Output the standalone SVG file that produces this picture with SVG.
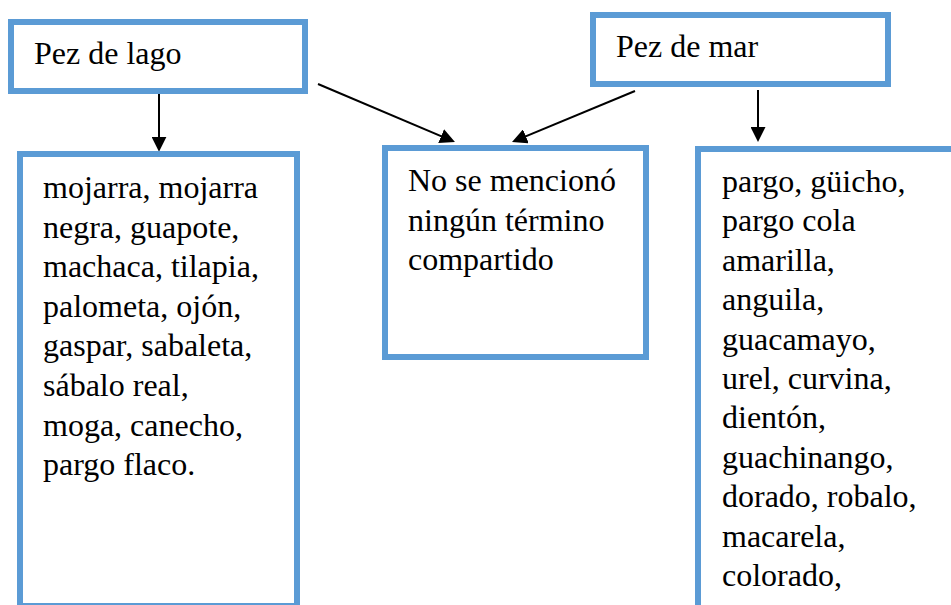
<svg xmlns="http://www.w3.org/2000/svg" width="951" height="605" viewBox="0 0 951 605">
<style>
.box{fill:#ffffff;stroke:#5B9BD5;stroke-width:6}
.t{font-family:'Liberation Serif','Times New Roman','DejaVu Serif',serif;font-size:32px;fill:#000000}
.c{stroke:#000000;stroke-width:2;fill:none}
</style>
<defs>
<marker id="ah" markerUnits="userSpaceOnUse" markerWidth="15" markerHeight="15" refX="12" refY="7.5" orient="auto">
<path d="M0,0 L15,7.5 L0,15 z" fill="#000000"/>
</marker>
</defs>
<rect width="951" height="605" fill="#ffffff"/>
<g id="connectors">
<line class="c" x1="159" y1="94" x2="159" y2="148.7" marker-end="url(#ah)"/>
<line class="c" x1="758" y1="90" x2="758" y2="139" marker-end="url(#ah)"/>
<line class="c" x1="318" y1="84" x2="452.2" y2="140.8" marker-end="url(#ah)"/>
<line class="c" x1="635" y1="91" x2="514.8" y2="140.9" marker-end="url(#ah)"/>
</g>
<g id="pez-lago">
<rect class="box" x="11" y="22" width="294" height="69"/>
<text class="t" font-family="Liberation Serif, serif" x="34" y="64">Pez de lago</text>
</g>
<g id="pez-mar">
<rect class="box" x="593" y="15" width="295" height="69"/>
<text class="t" font-family="Liberation Serif, serif" x="616" y="57">Pez de mar</text>
</g>
<g id="compartido">
<rect class="box" x="385" y="148" width="261" height="209"/>
<text class="t" font-family="Liberation Serif, serif"><tspan x="408" y="191">No se mencionó</tspan><tspan x="408" y="230.5">ningún término</tspan><tspan x="408" y="270">compartido</tspan></text>
</g>
<g id="lista-lago">
<rect class="box" x="20" y="154" width="277" height="452"/>
<text class="t" font-family="Liberation Serif, serif"><tspan x="43" y="198">mojarra, mojarra</tspan><tspan x="43" y="237.6">negra, guapote,</tspan><tspan x="43" y="277.2">machaca, tilapia,</tspan><tspan x="43" y="316.8">palometa, ojón,</tspan><tspan x="43" y="356.4">gaspar, sabaleta,</tspan><tspan x="43" y="396">sábalo real,</tspan><tspan x="43" y="435.6">moga, canecho,</tspan><tspan x="43" y="475.2">pargo flaco.</tspan></text>
</g>
<g id="lista-mar">
<rect class="box" x="698" y="149" width="270" height="480"/>
<text class="t" font-family="Liberation Serif, serif"><tspan x="722" y="192">pargo, güicho,</tspan><tspan x="722" y="231.4">pargo cola</tspan><tspan x="722" y="270.8">amarilla,</tspan><tspan x="722" y="310.2">anguila,</tspan><tspan x="722" y="349.6">guacamayo,</tspan><tspan x="722" y="389">urel, curvina,</tspan><tspan x="722" y="428.4">dientón,</tspan><tspan x="722" y="467.8">guachinango,</tspan><tspan x="722" y="507.2">dorado, robalo,</tspan><tspan x="722" y="546.6">macarela,</tspan><tspan x="722" y="586">colorado,</tspan></text>
</g>
</svg>
